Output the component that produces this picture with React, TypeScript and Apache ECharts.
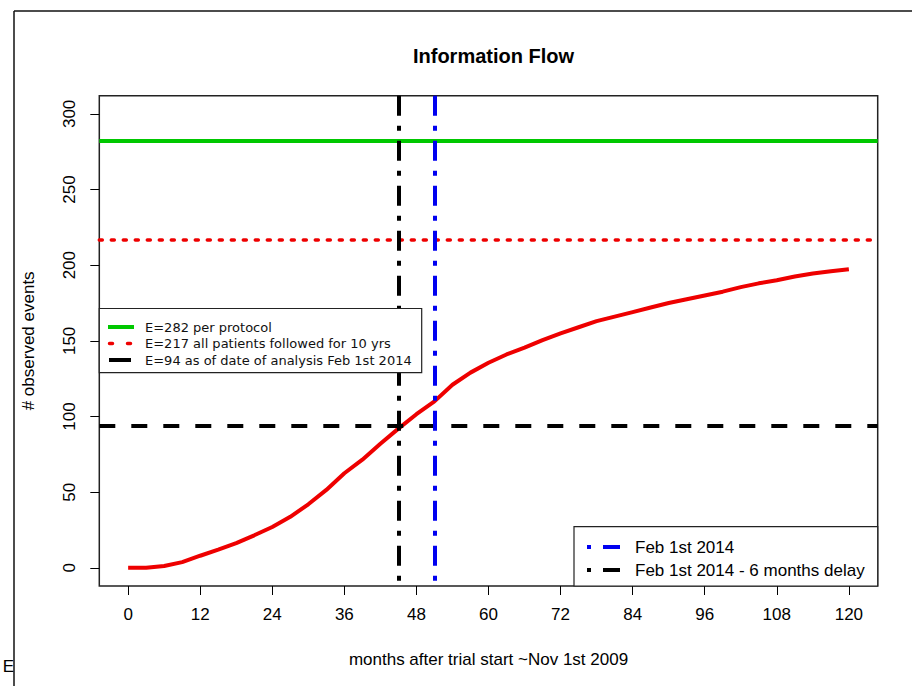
import React, { useEffect, useRef } from "react";
import * as echarts from "echarts";

// ---- data ----
const months = [0, 3, 6, 9, 12, 15, 18, 21, 24, 27, 30, 33, 36, 39, 42, 45, 48, 51, 54, 57, 60, 63, 66, 69, 72, 75, 78, 81, 84, 87, 90, 93, 96, 99, 102, 105, 108, 111, 114, 117, 120];
const observedEvents = [0, 0, 1.2, 3.8, 8, 12, 16.3, 21.5, 27, 33.7, 42, 51.5, 62.5, 71.5, 82, 92, 101.5, 110, 121, 129, 135.5, 141, 145.5, 150.5, 155, 159, 163, 166, 169, 172, 175, 177.5, 180, 182.5, 185.5, 188, 190, 192.5, 194.5, 196, 197.3];
const xTicks = [0, 12, 24, 36, 48, 60, 72, 84, 96, 108, 120];
const yTicks = [0, 50, 100, 150, 200, 250, 300];
const eventLevels = [282, 217, 94]; // per protocol, all followed 10 yrs, at analysis
const analysisMonths = [51, 45]; // Feb 1st 2014, minus 6 months delay
const levelLabels = [
  "E=282 per protocol",
  "E=217 all patients followed for 10 yrs",
  "E=94 as of date of analysis Feb 1st 2014",
];
const dateLabels = ["Feb 1st 2014", "Feb 1st 2014 - 6 months delay"];

const X_MIN = -4.8;
const X_MAX = 124.8;
const Y_MIN = -12;
const Y_MAX = 312;

const GREEN = "#00c800";
const RED = "#ee0000";
const BLUE = "#0000f0";
const BLACK = "#000000";
const FONT = "'Liberation Sans', Arial, sans-serif";

export default function App() {
  const ref = useRef<HTMLDivElement>(null);

  useEffect(() => {
    if (!ref.current) return;
    const chart = echarts.init(ref.current, null, { renderer: "svg" });

    const curve = months.map((m, i) => [m, observedEvents[i]]);
    const hStyles = [
      { color: GREEN, width: 4, type: "solid" },
      { color: RED, width: 3.5, type: [3, 9], cap: "round" },
      { color: BLACK, width: 4, type: [16, 16] },
    ];
    const vStyles = [
      { color: BLUE, width: 4, type: [7, 8, 5, 8, 20, 0].slice(0, 4).length ? [7, 9, 5, 9] : [] },
      { color: BLACK, width: 4, type: [7, 9, 5, 9] },
    ];
    // dot-dash pattern for verticals: dash, gap, dot, gap
    vStyles[0].type = [20, 10, 5, 10];
    vStyles[1].type = [20, 10, 5, 10];

    const legend1Rows = [327, 343.5, 360];
    const legend2Rows = [547, 570];

    chart.setOption({
      animation: false,
      textStyle: { fontFamily: FONT },
      title: {
        text: "Information Flow",
        left: 488.5,
        top: 41,
        textAlign: "center",
        textStyle: { fontSize: 20, fontWeight: "bold", color: "#000", fontFamily: FONT },
      },
      grid: {
        left: 99.3,
        right: 34.3,
        top: 95.7,
        bottom: 100,
        show: true,
        borderColor: "#222",
        borderWidth: 1.5,
        backgroundColor: "#fff",
      },
      xAxis: {
        type: "value",
        min: X_MIN,
        max: X_MAX,
        splitLine: { show: false },
        axisLine: { show: false, onZero: false },
        axisTick: { show: true, length: 9, customValues: xTicks, lineStyle: { color: "#000", width: 1 } },
        axisLabel: { customValues: xTicks, fontSize: 17, color: "#000", margin: 20, fontFamily: FONT },
        name: "months after trial start ~Nov 1st 2009",
        nameLocation: "middle",
        nameGap: 65,
        nameTextStyle: { fontSize: 17, color: "#000", fontFamily: FONT },
      },
      yAxis: {
        type: "value",
        min: Y_MIN,
        max: Y_MAX,
        splitLine: { show: false },
        axisLine: { show: false, onZero: false },
        axisTick: { show: true, length: 9, customValues: yTicks, lineStyle: { color: "#000", width: 1 } },
        axisLabel: { customValues: yTicks, fontSize: 17, color: "#000", margin: 21, rotate: 90, fontFamily: FONT },
        name: "# observed events",
        nameLocation: "middle",
        nameGap: 62,
        nameTextStyle: { fontSize: 17, color: "#000", fontFamily: FONT },
      },
      series: [
        {
          type: "line",
          data: curve,
          showSymbol: false,
          symbol: "none",
          lineStyle: { color: RED, width: 4 },
          z: 2,
          markLine: {
            silent: true,
            symbol: "none",
            label: { show: false },
            data: [
              ...eventLevels.map((v, i) => ({ yAxis: v, lineStyle: hStyles[i] })),
              ...analysisMonths.map((v, i) => [
                { coord: [v, Y_MAX], lineStyle: vStyles[i] },
                { coord: [v, Y_MIN] },
              ]),
            ],
          },
        },
      ],
      graphic: [
        // outer frame
        { type: "line", z: 200, shape: { x1: 14, y1: 11, x2: 912, y2: 11 }, style: { stroke: "#111", lineWidth: 1.5 } },
        { type: "line", z: 200, shape: { x1: 14, y1: 11, x2: 14, y2: 686 }, style: { stroke: "#111", lineWidth: 1.5 } },
        { type: "text", z: 199, x: 14, y: 666, style: { text: "E", fontSize: 17, fontFamily: FONT, fill: "#000", align: "right", verticalAlign: "middle" } },
        // legend 1
        {
          type: "group",
          z: 100,
          children: [
            { type: "rect", z: 100, shape: { x: 99.3, y: 308.5, width: 322.4, height: 64.2 }, style: { fill: "#fff", stroke: "#222", lineWidth: 1.2 } },
            { type: "line", z: 101, shape: { x1: 108, y1: legend1Rows[0], x2: 134, y2: legend1Rows[0] }, style: { stroke: GREEN, lineWidth: 4 } },
            { type: "line", z: 101, shape: { x1: 109.5, y1: legend1Rows[1], x2: 134, y2: legend1Rows[1] }, style: { stroke: RED, lineWidth: 3.5, lineDash: [3, 15], lineCap: "round" } },
            { type: "line", z: 101, shape: { x1: 109, y1: legend1Rows[2], x2: 131, y2: legend1Rows[2] }, style: { stroke: BLACK, lineWidth: 4 } },
            ...levelLabels.map((t, i) => ({
              type: "text",
              z: 101,
              x: 145,
              y: legend1Rows[i],
              style: { text: t, fontSize: 13, fontFamily: "'DejaVu Sans', sans-serif", fill: "#111", verticalAlign: "middle" },
            })),
          ],
        },
        // legend 2
        {
          type: "group",
          z: 100,
          children: [
            { type: "rect", z: 100, shape: { x: 574, y: 526.7, width: 303.7, height: 59.3 }, style: { fill: "#fff", stroke: "#222", lineWidth: 1.2 } },
            { type: "line", z: 101, shape: { x1: 587, y1: legend2Rows[0], x2: 620, y2: legend2Rows[0] }, style: { stroke: BLUE, lineWidth: 4, lineDash: [4, 12, 17, 12] } },
            { type: "line", z: 101, shape: { x1: 587, y1: legend2Rows[1], x2: 620, y2: legend2Rows[1] }, style: { stroke: BLACK, lineWidth: 4, lineDash: [4, 12, 17, 12] } },
            ...dateLabels.map((t, i) => ({
              type: "text",
              z: 101,
              x: 635,
              y: legend2Rows[i],
              style: { text: t, fontSize: 17, fontFamily: FONT, fill: "#000", verticalAlign: "middle" },
            })),
          ],
        },
      ],
    });

    return () => chart.dispose();
  }, []);

  return (
    <div
      ref={ref}
      style={{ position: "absolute", left: 0, top: 0, width: 912, height: 686, background: "#fff" }}
    />
  );
}
